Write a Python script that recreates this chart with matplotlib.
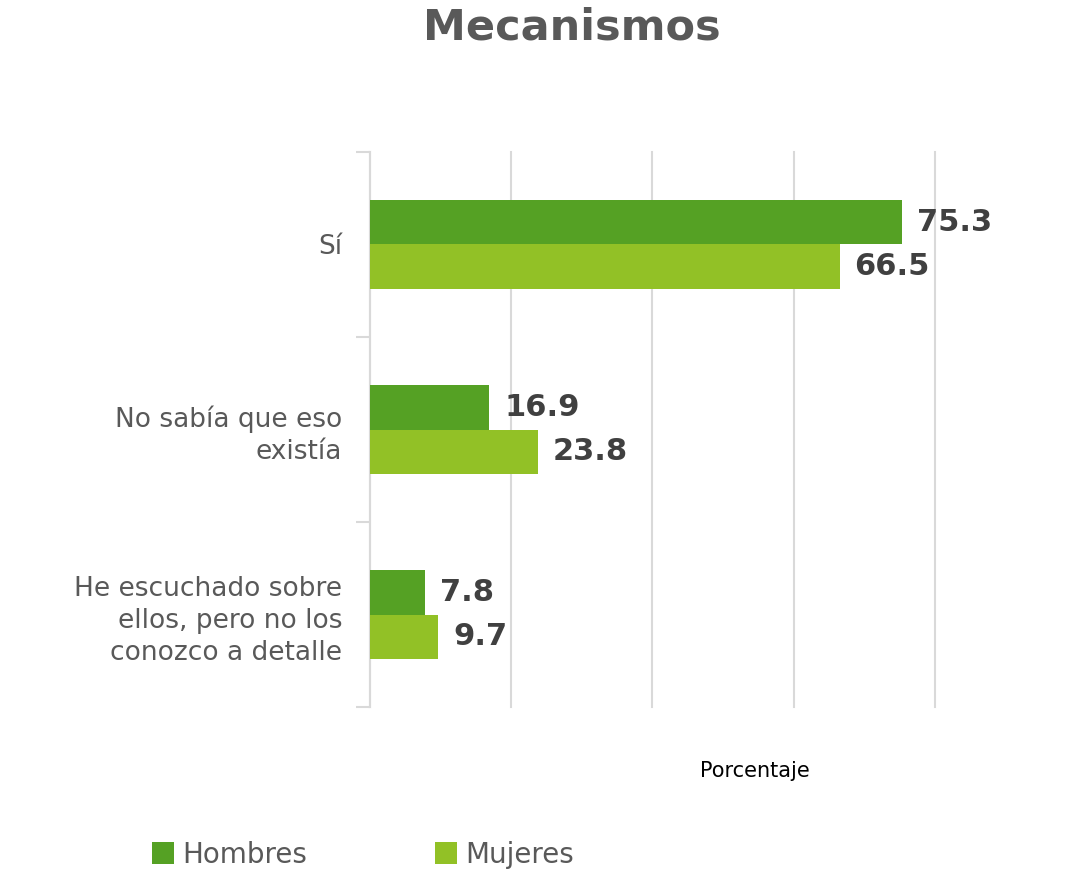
import numpy as np
import matplotlib.pyplot as plt

categories = ["Sí", "No sabía que eso\nexistía", "He escuchado sobre\nellos, pero no los\nconozco a detalle"]
hombres = [75.3, 16.9, 7.8]
mujeres = [66.5, 23.8, 9.7]

c_h = "#55a124"
c_m = "#92c126"
gray = "#595959"

fig = plt.figure(figsize=(10.68, 8.72), dpi=100)
ax = fig.add_axes([0.3464, 0.1892, 0.529, 0.6365])

y = np.arange(len(categories))
h = 0.238
ax.barh(y - h/2, hombres, height=h, color=c_h, label="Hombres", zorder=3)
ax.barh(y + h/2, mujeres, height=h, color=c_m, label="Mujeres", zorder=3)

for yi, v in zip(y, hombres):
    ax.text(v + 2.1, yi - h/2, f"{v}", va="center", ha="left", fontsize=22,
            fontweight="bold", color="#404040")
for yi, v in zip(y, mujeres):
    ax.text(v + 2.1, yi + h/2, f"{v}", va="center", ha="left", fontsize=22,
            fontweight="bold", color="#404040")

ax.set_xlim(0, 80)
ax.set_ylim(2.5, -0.5)
ax.set_xticks([0, 20, 40, 60, 80])
ax.set_xticklabels([])
ax.tick_params(axis="x", length=0)
ax.grid(axis="x", color="#d9d9d9", linewidth=1.5, zorder=0)
for gl in ax.get_xgridlines():
    gl.set_clip_on(False)

ax.set_yticks([-0.5, 0.5, 1.5, 2.5], minor=False)
ax.set_yticklabels([])
ax.tick_params(axis="y", which="major", length=10, color="#d9d9d9", width=1.5)
ax.set_yticks(y, minor=True)
ax.set_yticklabels(categories, minor=True, fontsize=19, color=gray, ha="right",
                   linespacing=1.3)
ax.tick_params(axis="y", which="minor", length=0, pad=20)

for s in ["top", "right", "bottom"]:
    ax.spines[s].set_visible(False)
ax.spines["left"].set_color("#d9d9d9")
ax.spines["left"].set_linewidth(1.5)

fig.text(0.535, 0.968, "Mecanismos", ha="center", va="center", fontsize=31,
         fontweight="bold", color=gray)
fig.text(0.707, 0.116, "Porcentaje", ha="center", va="center", fontsize=15, color="black")

fig.legend(loc="center", bbox_to_anchor=(0.34, 0.02), ncol=2, frameon=False,
           fontsize=20, labelcolor=gray, handlelength=0.8, handleheight=0.8,
           columnspacing=4.6, handletextpad=0.3)

fig.savefig("out.png", dpi=100)
